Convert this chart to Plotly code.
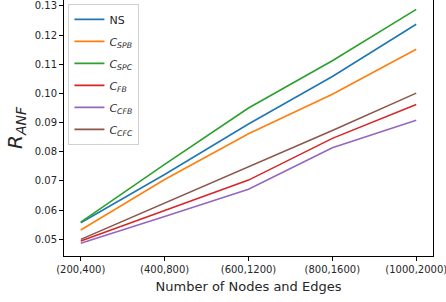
import plotly.graph_objects as go

categories = ["(200,400)", "(400,800)", "(600,1200)", "(800,1600)", "(1000,2000)"]
series_names = ["NS", "<i>C</i><sub><i>SPB</i></sub>", "<i>C</i><sub><i>SPC</i></sub>",
                "<i>C</i><sub><i>FB</i></sub>", "<i>C</i><sub><i>CFB</i></sub>", "<i>C</i><sub><i>CFC</i></sub>"]
ns = [0.0557, 0.0722, 0.0895, 0.1058, 0.1237]
c_spb = [0.0532, 0.0705, 0.0862, 0.0997, 0.1151]
c_spc = [0.0559, 0.0757, 0.0950, 0.1112, 0.1288]
c_fb = [0.0494, 0.0598, 0.0703, 0.0846, 0.0962]
c_cfb = [0.0487, 0.0578, 0.0672, 0.0814, 0.0908]
c_cfc = [0.0500, 0.0625, 0.0748, 0.0873, 0.1001]
colors = ["#1f77b4", "#ff7f0e", "#2ca02c", "#d62728", "#9467bd", "#8c564b"]

fig = go.Figure()
for i, (name, vals, col) in enumerate(zip(series_names, [ns, c_spb, c_spc, c_fb, c_cfb, c_cfc], colors)):
    fig.add_trace(go.Scatter(x=list(range(len(categories))), y=vals, mode="lines", name=name,
                             legendgroup=f"g{i}",
                             line=dict(color=col, width=1.6)))

fig.update_layout(
    width=446, height=302,
    margin=dict(l=64, r=13, t=0, b=46),
    plot_bgcolor="white", paper_bgcolor="white",
    font=dict(family="DejaVu Sans", size=10, color="#262626"),
    showlegend=True,
    legend=dict(x=0.012, y=0.985, xanchor="left", yanchor="top",
                bgcolor="white", bordercolor="#d0d0d0", borderwidth=1,
                font=dict(size=11), tracegroupgap=3, itemwidth=30),
)
fig.update_xaxes(
    range=[-0.2, 4.2], tickmode="array", tickvals=list(range(len(categories))), ticktext=categories,
    showline=True, linecolor="black", linewidth=1, mirror=True,
    ticks="outside", ticklen=4, tickcolor="black", showgrid=False, zeroline=False,
    automargin=False, ticklabeloverflow="allow",
    title=dict(text="Number of Nodes and Edges", font=dict(size=13), standoff=7),
)
fig.update_yaxes(
    range=[0.0443, 0.1320], tickvals=[0.05, 0.06, 0.07, 0.08, 0.09, 0.10, 0.11, 0.12, 0.13],
    tickformat=".2f",
    showline=True, linecolor="black", linewidth=1, mirror=True,
    ticks="outside", ticklen=4, tickcolor="black", showgrid=False, zeroline=False,
    automargin=False,
    title=dict(text="<i>R</i><sub><i>ANF</i></sub>", font=dict(size=20), standoff=6),
)
fig.write_html("out.html", config={"displayModeBar": False},
               post_script="document.body.style.margin='0';document.body.style.overflow='hidden';")
